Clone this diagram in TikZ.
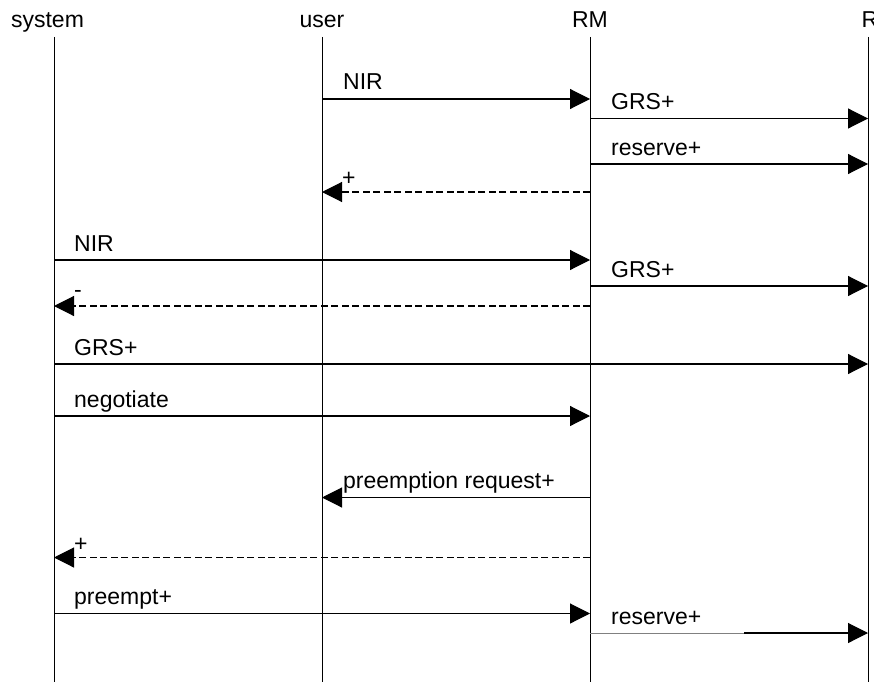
\documentclass[tikz,border=0pt]{standalone}
\usepackage{fontspec}
\setmainfont{Liberation Sans}
\usetikzlibrary{arrows.meta}
\begin{document}
\begin{tikzpicture}[x=1pt,y=-1pt,
  lifeline/.style={line width=1pt},
  msg/.style={line width=1.1pt,-{Triangle[length=20pt,width=20pt]}},
  reply/.style={msg,dash pattern=on 7pt off 3.5pt},
  head/.style={anchor=base,inner sep=0pt,font=\fontsize{23}{25}\selectfont},
  lbl/.style={anchor=base west,inner sep=0pt,font=\fontsize{23}{25}\selectfont}]
\useasboundingbox (0,0) rectangle (874,682);
% heads
\node[head] (hsys) at (47.5,27.5) {system};
\node[head] (huser) at (322,27.5) {user};
\node[head] (hrm) at (590,27.5) {RM};
\node[head] (hr) at (870,27.5) {R};
% lifelines
\coordinate (sys) at (54,37);
\coordinate (user) at (322,37);
\coordinate (rm) at (590,37);
\coordinate (r) at (868,37);
\coordinate (sysE) at (54,682);
\coordinate (userE) at (322,682);
\coordinate (rmE) at (590,682);
\coordinate (rE) at (868,682);
\draw[lifeline] (sys) -- (sysE);
\draw[lifeline] (user) -- (userE);
\draw[lifeline] (rm) -- (rmE);
\draw[lifeline] (r) -- (rE);
% messages
\draw[msg] (user |- 0,99) -- (rm |- 0,99);
\node[lbl] (l1) at (343,90) {NIR};
\draw[msg] (rm |- 0,118.5) -- (r |- 0,118.5);
\node[lbl] (l2) at (611,109.5) {GRS+};
\draw[msg] (rm |- 0,164) -- (r |- 0,164);
\node[lbl] (l3) at (611,155) {reserve+};
\draw[reply] (rm |- 0,192) -- (user |- 0,192);
\node[lbl] (l4) at (342,185.5) {+};
\draw[msg] (sys |- 0,260) -- (rm |- 0,260);
\node[lbl] (l5) at (74,251) {NIR};
\draw[msg] (rm |- 0,286) -- (r |- 0,286);
\node[lbl] (l6) at (611,277) {GRS+};
\draw[reply] (rm |- 0,306) -- (sys |- 0,306);
\node[lbl] (l7) at (74,297) {-};
\draw[msg] (sys |- 0,364) -- (r |- 0,364);
\node[lbl] (l8) at (74,355) {GRS+};
\draw[msg] (sys |- 0,416) -- (rm |- 0,416);
\node[lbl] (l9) at (74,407) {negotiate};
\draw[msg] (rm |- 0,497.5) -- (user |- 0,497.5);
\node[lbl] (l10) at (343,488.5) {preemption request+};
\draw[reply] (rm |- 0,557.5) -- (sys |- 0,557.5);
\node[lbl] (l11) at (74,551) {+};
\draw[msg] (sys |- 0,613.5) -- (rm |- 0,613.5);
\node[lbl] (l12) at (74,604.5) {preempt+};
\coordinate (cut) at (744,633);
\draw[gray,line width=0.6pt] (rm |- cut) -- (cut);
\draw[msg] (cut) -- (r |- cut);
\node[lbl] (l13) at (611,624) {reserve+};
\end{tikzpicture}
\end{document}
